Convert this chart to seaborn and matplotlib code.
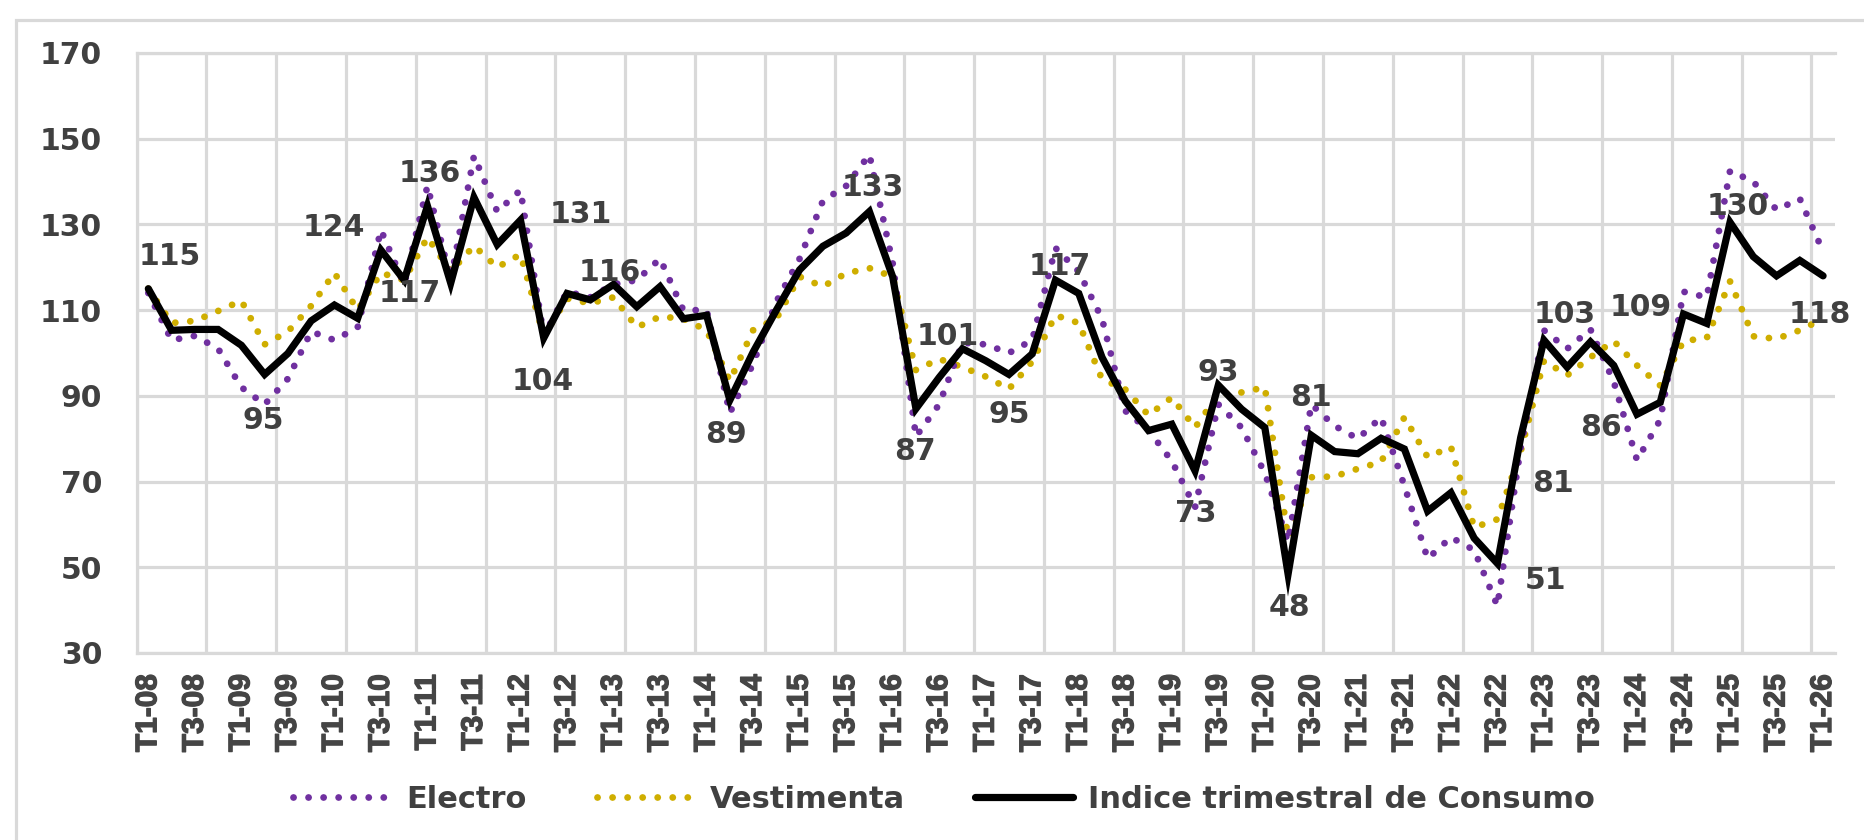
import numpy as np
import pandas as pd
import matplotlib
matplotlib.use("Agg")
import matplotlib.pyplot as plt
from matplotlib.patches import Rectangle
import matplotlib.patheffects as pe
import seaborn as sns

# ---------------- data ----------------
quarters = [f"T{q}-{y:02d}" for y in range(8, 27) for q in range(1, 5)][:73]

indice = [115, 105.3, 105.5, 105.5, 101.8, 95, 99.9, 107.5, 111.2, 108.1,
          124, 117, 134.3, 116.3, 136.3, 125.3, 131, 103.5, 113.9, 112.4,
          116, 110.8, 115.5, 108, 108.8, 89, 100.2, 110, 119.4, 124.9,
          128, 133, 117.8, 87, 94.3, 101, 98.2, 95, 99.8, 117,
          113.9, 99, 88.8, 81.9, 83.4, 72.5, 92.5, 86.9, 82.6, 48.4,
          80.8, 77, 76.5, 80.1, 77.6, 63.1, 67.4, 56.8, 50.9, 80.3,
          103, 96.7, 102.6, 97.1, 85.7, 88.5, 109.1, 106.9, 130.5, 122.5,
          118, 121.6, 118]

electro = [114, 103, 104, 101, 92, 88, 94, 105, 103, 106,
           128.7, 116, 139, 117, 146, 133, 138, 104, 114.3, 113,
           116, 117, 122, 110, 110, 86, 97.5, 112, 122, 135.5,
           139, 146.3, 121, 80.5, 88, 102.4, 102, 100, 103, 124.5,
           119, 108, 86.5, 82, 74.8, 64, 88, 82.6, 72, 56,
           88, 83, 80, 85, 69, 52, 57, 54, 41, 78,
           105.3, 101, 105.5, 93.3, 75, 84.4, 114.3, 113, 142.5, 140,
           133.4, 136, 123.7]

vestimenta = [115, 107, 107.5, 109.8, 112.2, 102, 105, 111, 118.7, 110,
              118.7, 117, 127, 119, 125, 120, 123, 104, 112.7, 111.6,
              113, 106, 108.5, 108, 105.3, 93.5, 105.3, 108, 117.8, 115.5,
              118.6, 119.8, 117.8, 96, 98.6, 96.7, 94.5, 91.6, 98, 108.8,
              107, 93.9, 91.5, 85.5, 89.6, 82.6, 90.4, 90.8, 92, 57,
              71, 71.2, 73, 74.6, 85, 75.7, 78.1, 59.3, 61.2, 77,
              98.2, 94.8, 99, 102.8, 97.1, 92.4, 102.8, 103.5, 116.7, 103.9,
              103.3, 105.3, 108]

series_names = ["Electro", "Vestimenta", "Indice trimestral de Consumo"]

# manual value labels (index of the point they annotate, text)
label_idx = [0, 5, 10, 11, 12, 16, 17, 20, 25, 31, 33, 35, 37, 39,
             45, 46, 49, 50, 58, 59, 60, 64, 66, 68, 72]
label_txt = ["115", "95", "124", "117", "136", "131", "104", "116", "89", "133",
             "87", "101", "95", "117", "73", "93", "48", "81", "51", "81",
             "103", "86", "109", "130", "118"]
# pixel offsets of each label from its point (x right, y up)
label_off = [(21, 32), (-1, -46), (-47, 23), (6, -13), (2, 33), (60, 6), (-1, -43),
             (-4, 12), (-4, -34), (3, 24), (-1, -43), (-15, 12), (0, -40), (4, 14),
             (1, -43), (0, 13), (1, -33), (0, 38), (48, -17), (32, -46), (21, 26),
             (-36, -13), (-43, 7), (8, 16), (-3, -39)]

# ---------------- style ----------------
sns.set_style("white")
plt.rcParams['font.family'] = ['DejaVu Sans']

W, H = 1865, 840
fig = plt.figure(figsize=(W / 100, H / 100), dpi=100)
left_px, right_px, top_px, bot_px = 136.7, 1834.7, 53, 653
ax = fig.add_axes([left_px / W, 1 - bot_px / H, (right_px - left_px) / W, (bot_px - top_px) / H])

df = pd.DataFrame({"idx": np.arange(len(indice)),
                   "Electro": electro,
                   "Vestimenta": vestimenta,
                   "Indice": indice})

purple = "#7030A0"
gold = "#CFAE00"
dot_style = (0, (0.01, 2.2))
sns.lineplot(data=df, x="idx", y="Electro", ax=ax, color=purple, lw=4.9,
             linestyle=dot_style, dash_capstyle="round", label=series_names[0], zorder=3)
sns.lineplot(data=df, x="idx", y="Vestimenta", ax=ax, color=gold, lw=4.9,
             linestyle=dot_style, dash_capstyle="round", label=series_names[1], zorder=2)
sns.lineplot(data=df, x="idx", y="Indice", ax=ax, color="black", lw=5.2,
             solid_joinstyle="miter", label=series_names[2], zorder=4)

ax.set_xlim(-0.5, 72.5)
ax.set_ylim(30, 170)
ax.set_yticks(np.arange(30, 171, 20))
ax.set_xticks(np.arange(0, 73, 2))
ax.set_xticklabels(quarters[::2], rotation=90, fontfamily="Liberation Sans",
                   fontweight="bold", fontsize=21.5, color="#454545")
for t in ax.get_xticklabels():
    t.set_path_effects([pe.withStroke(linewidth=0.9, foreground="#454545")])
ax.set_xticks(np.arange(-0.5, 72.6, 3), minor=True)
for t in ax.get_yticklabels():
    t.set_fontweight("bold")
    t.set_fontsize(21.5)
    t.set_color("#404040")
ax.tick_params(axis="both", which="both", length=0)
ax.tick_params(axis="y", pad=25)
ax.tick_params(axis="x", pad=15)
ax.set_xlabel("")
ax.set_ylabel("")

grid_c = "#D9D9D9"
ax.grid(False)
ax.yaxis.grid(True, color=grid_c, lw=2.3, zorder=0)
ax.xaxis.grid(True, which="minor", color=grid_c, lw=2.3, zorder=0)
ax.set_axisbelow(True)
for s in ["top", "bottom", "left"]:
    ax.spines[s].set_visible(True)
    ax.spines[s].set_color(grid_c)
    ax.spines[s].set_linewidth(2.3)
ax.spines["right"].set_visible(False)

# value labels
for i, txt, (dx, dy) in zip(label_idx, label_txt, label_off):
    ax.annotate(txt, xy=(i, indice[i]), xytext=(dx, dy), textcoords="offset pixels",
                ha="center", va="center", fontsize=21.5, fontweight="bold",
                color="#404040", zorder=6, annotation_clip=False)

# legend
handles, labels = ax.get_legend_handles_labels()
if ax.get_legend() is not None:
    ax.get_legend().remove()
leg = fig.legend(handles, labels, loc="center", bbox_to_anchor=(944 / W, 1 - 799 / H),
                 ncol=3, frameon=False, handlelength=3.2, handletextpad=0.5,
                 columnspacing=2.3, prop={"weight": "bold", "size": 22})
for t in leg.get_texts():
    t.set_color("#404040")

# outer chart border
fig.patches.append(Rectangle((16 / W, -0.2), 1.5, 1.2 - 20 / H, transform=fig.transFigure,
                             fill=False, edgecolor=grid_c, lw=2.3))

fig.savefig("out.png", dpi=100)
